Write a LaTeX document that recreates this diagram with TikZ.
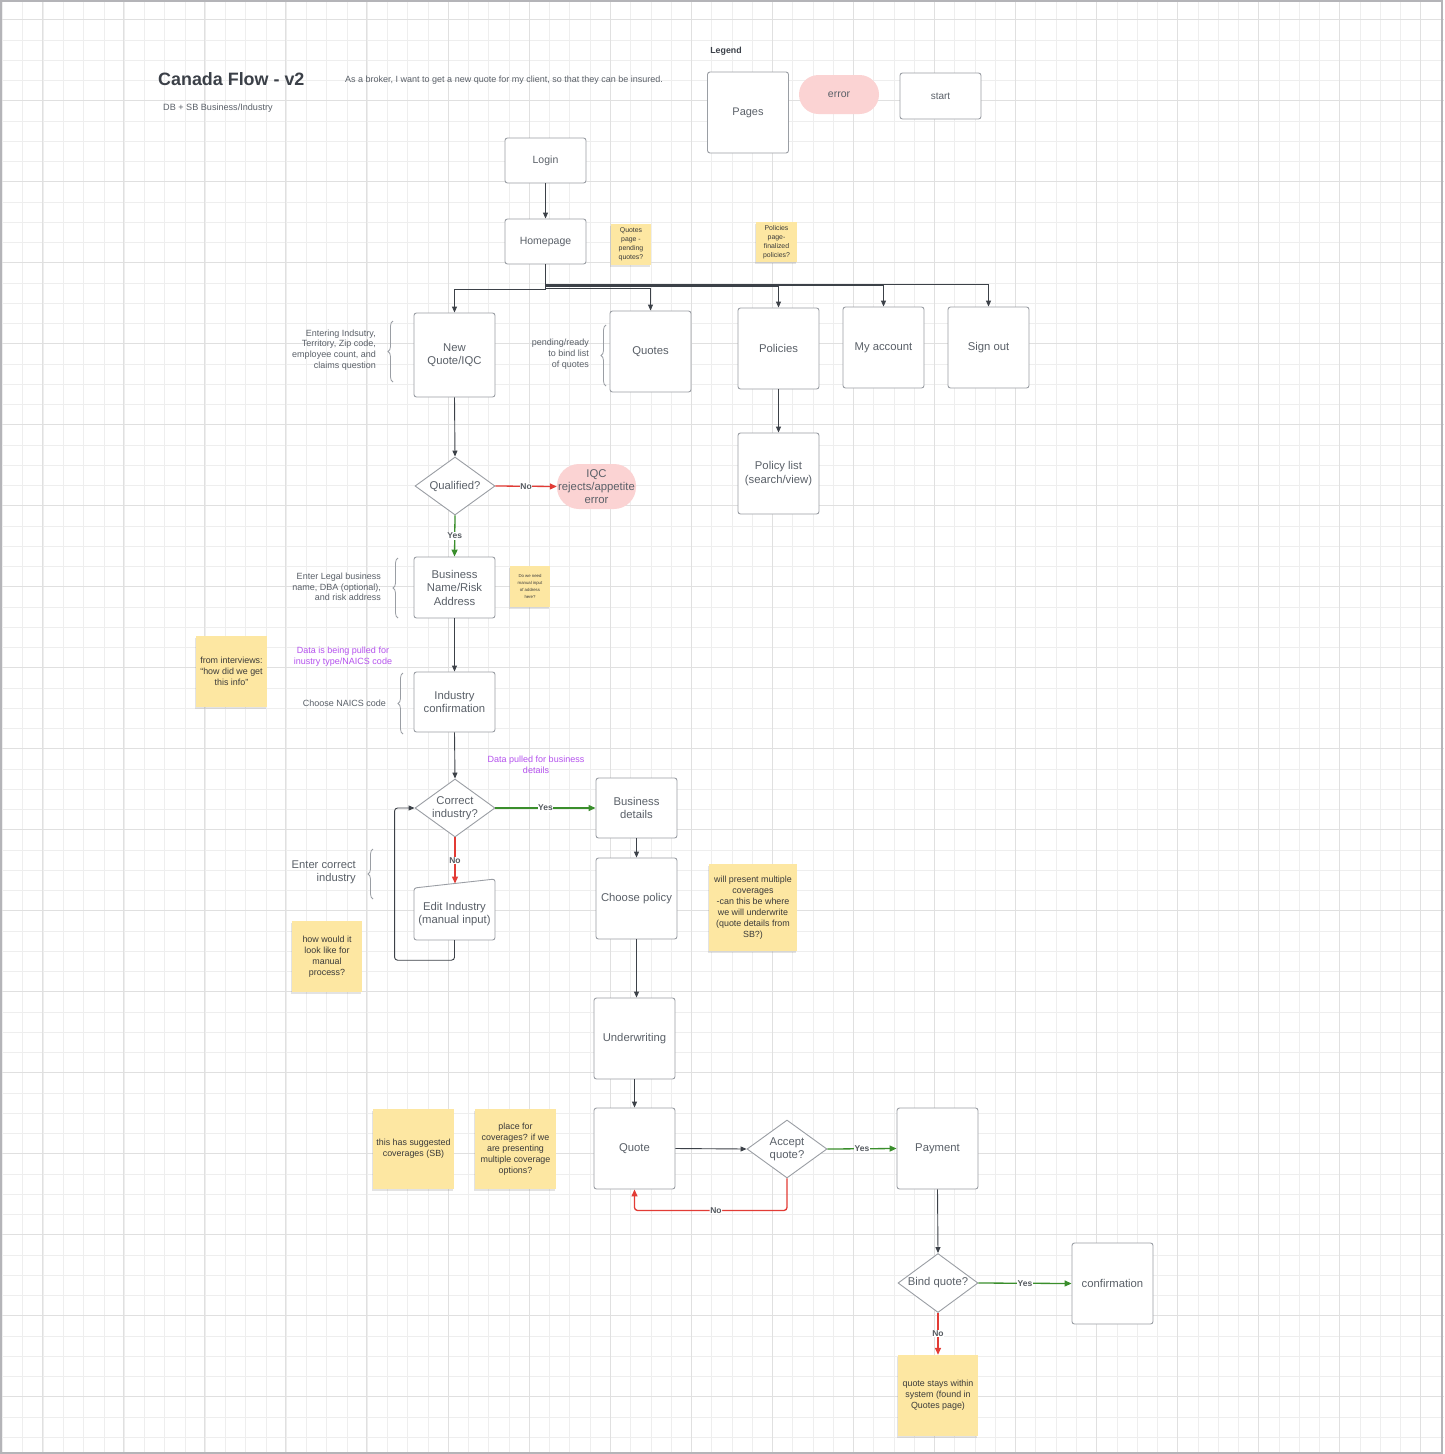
\documentclass[tikz,border=0pt]{standalone}
\usepackage{fontspec}
\setmainfont{Liberation Sans}
\usetikzlibrary{arrows.meta,shapes.geometric,decorations.pathreplacing,calc,shadows}
\definecolor{boxc}{HTML}{9A9EA4}
\definecolor{txtc}{HTML}{5A6068}
\definecolor{titlec}{HTML}{3B4048}
\definecolor{arrc}{HTML}{3C4148}
\definecolor{redc}{HTML}{E23B35}
\definecolor{greenc}{HTML}{3A8E2C}
\definecolor{errc}{HTML}{FBD3D3}
\definecolor{stickyc}{HTML}{FDE7A2}
\definecolor{notetxt}{HTML}{3A3A3A}
\definecolor{purpc}{HTML}{B552EE}
\definecolor{lblc}{HTML}{555A60}
\definecolor{minorc}{HTML}{EEEEEE}
\definecolor{majorc}{HTML}{E0E0E0}
\definecolor{framec}{HTML}{B4B4B8}
\tikzset{
  page/.style={draw=boxc, line width=0.9pt, fill=white, rounded corners=2.5pt,
    minimum width=81pt, minimum height=81pt, inner sep=1pt, align=center,
    text=txtc, font=\fontsize{11.3}{13.5}\selectfont},
  pill/.style={fill=errc, inner sep=1pt, align=center, text=txtc,
    font=\fontsize{10.5}{13}\selectfont},
  decision/.style={diamond, draw=boxc, line width=0.9pt, fill=white,
    minimum width=80pt, minimum height=58pt, inner sep=0pt, aspect=1.38,
    align=center, text=txtc, font=\fontsize{11.3}{13.3}\selectfont},
  note/.style={fill=stickyc, drop shadow={shadow xshift=-1pt, shadow yshift=-2pt, opacity=0.22},
    align=center, text=notetxt, inner sep=1pt, font=\fontsize{8.9}{11}\selectfont},
  conn/.style={draw=arrc, line width=0.9pt, -{Triangle[length=6pt,width=5pt]}},
  redconn/.style={draw=redc, line width=1.3pt, -{Triangle[length=7pt,width=6pt]}},
  greenconn/.style={draw=greenc, line width=1.3pt, -{Triangle[length=7pt,width=6pt]}},
  lbl/.style={fill=white, inner sep=0.6pt, text=lblc, font=\bfseries\fontsize{8.5}{9}\selectfont},
  annot/.style={anchor=east, align=right, inner sep=0pt, text=txtc, font=\fontsize{9}{10.7}\selectfont},
  purptext/.style={align=center, inner sep=0pt, text=purpc, font=\fontsize{9}{10.8}\selectfont},
  bracec/.style={draw=boxc, line width=0.8pt, decorate, decoration={brace, amplitude=5pt}},
  minorline/.style={draw=minorc, line width=0.6pt},
  majorline/.style={draw=majorc, line width=0.8pt}
}
\begin{document}
\begin{tikzpicture}[x=1pt,y=-1pt]
\useasboundingbox (0,0) rectangle (1444,1454);
\fill[white] (0,0) rectangle (1444,1454);
% grid
\foreach \k in {0,...,71} {\draw[minorline] ({2.5+20.26*\k},0) -- ({2.5+20.26*\k},1454);}
\foreach \k in {0,...,71} {\draw[minorline] (0,{19.6+20.25*\k}) -- (1444,{19.6+20.25*\k});}
\foreach \k in {0,...,17} {\draw[majorline] ({42.7+81.04*\k},0) -- ({42.7+81.04*\k},1454);}
\foreach \k in {0,...,17} {\draw[majorline] (0,{19.6+81*\k}) -- (1444,{19.6+81*\k});}
\draw[framec, line width=2pt] (1,1) rectangle (1441.5,1452.5);

% title
\node[anchor=west, inner sep=0pt, text=titlec, font=\bfseries\fontsize{17.9}{20}\selectfont] (title) at (158,79) {Canada Flow - v2};
\node[anchor=west, inner sep=0pt, text=txtc, font=\fontsize{9}{10}\selectfont] (story) at (345,80) {As a broker, I want to get a new quote for my client, so that they can be insured.};
\node[anchor=west, inner sep=0pt, text=txtc, font=\fontsize{9.1}{10}\selectfont] (sub) at (163,108) {DB + SB Business/Industry};

% legend
\node[inner sep=0pt, text=titlec, font=\bfseries\fontsize{8.8}{10}\selectfont] (legend) at (726,51) {Legend};
\node[page, font=\fontsize{11}{13}\selectfont] (pages) at (748,112.5) {Pages};
\node[pill, minimum width=80pt, minimum height=39pt, rounded corners=19.5pt] (err) at (839,94.5) {error};
\node[page, minimum height=46pt, font=\fontsize{10}{12}\selectfont] (start) at (940.5,96) {start};

% main pages
\node[page, minimum height=45pt, font=\fontsize{10.5}{13}\selectfont] (login) at (545.5,160.5) {Login};
\node[page, minimum height=45pt, font=\fontsize{10.5}{13}\selectfont] (home) at (545.5,241.5) {Homepage};
\node[page, minimum height=84pt] (newq) at (454.5,355) {New\\Quote/IQC};
\node[page] (quotes) at (650.5,351.5) {Quotes};
\node[page] (policies) at (778.5,348.5) {Policies};
\node[page] (myacc) at (883.5,347.5) {My account};
\node[page] (signout) at (988.5,347.5) {Sign out};
\node[page] (plist) at (778.5,473.5) {Policy list\\(search/view)};

\node[decision] (qual) at (455,486) {Qualified?};
\node[pill, minimum width=79pt, minimum height=45pt, rounded corners=22pt, font=\fontsize{11.3}{13.3}\selectfont] (iqcerr) at (596.5,486.5) {IQC\\rejects/appetite\\error};
\node[page, minimum height=61pt] (bizname) at (454.5,587.5) {Business\\Name/Risk\\Address};
\node[page, minimum height=60pt] (indconf) at (454.5,702) {Industry\\confirmation};
\node[decision] (correct) at (455,808) {Correct\\industry?};
\node[page, minimum height=60pt] (bizdet) at (636.5,808) {Business\\details};

% manual input shape
\draw[draw=boxc, line width=0.9pt, fill=white, rounded corners=2.5pt] (414,888) -- (495,879) -- (495,940) -- (414,940) -- cycle;
\node[inner sep=0pt, minimum width=81pt, minimum height=52pt, align=center, text=txtc, font=\fontsize{11.3}{13.5}\selectfont] (edit) at (454.5,914) {Edit Industry\\(manual input)};
\coordinate (edittop) at (455,883.5);

\node[page] (choose) at (636.5,898.5) {Choose policy};
\node[page] (under) at (634.5,1038.5) {Underwriting};
\node[page] (quote) at (634.5,1148.5) {Quote};
\node[decision] (accept) at (787,1149) {Accept\\quote?};
\node[page] (payment) at (937.5,1148.5) {Payment};
\node[decision, minimum height=59pt] (bind) at (938,1283) {Bind quote?};
\node[page] (confirm) at (1112.5,1283.5) {confirmation};

% sticky notes
\node[note, minimum width=40pt, minimum height=41pt, font=\fontsize{6.9}{9}\selectfont] (n1) at (631,244.5) {Quotes\\page -\\pending\\quotes?};
\node[note, minimum width=41pt, minimum height=40pt, font=\fontsize{6.9}{9}\selectfont] (n2) at (776.5,242) {Policies\\page-\\finalized\\policies?};
\node[note, minimum width=40pt, minimum height=41pt, font=\fontsize{4.3}{6.8}\selectfont] (n3) at (530,586.5) {Do we need\\manual input\\of address\\here?};
\node[note, minimum width=71pt, minimum height=71pt] (n4) at (231.5,671.5) {from interviews:\\``how did we get\\this info''};
\node[note, minimum width=70pt, minimum height=71pt] (n5) at (327,956.5) {how would it\\look like for\\manual\\process?};
\node[note, minimum width=88pt, minimum height=87pt] (n6) at (753,907.5) {will present multiple\\coverages\\-can this be where\\we will underwrite\\(quote details from\\SB?)};
\node[note, minimum width=81pt, minimum height=80pt] (n7) at (413.5,1149) {this has suggested\\coverages (SB)};
\node[note, minimum width=81pt, minimum height=80pt] (n8) at (515.5,1149) {place for\\coverages? if we\\are presenting\\multiple coverage\\options?};
\node[note, minimum width=80pt, minimum height=81pt] (n9) at (938,1395.5) {quote stays within\\system (found in\\Quotes page)};

% annotations
\node[annot] (a1) at (376,350) {Entering Indsutry,\\Territory, Zip code,\\employee count, and\\claims question};
\node[annot] (a2) at (589,354) {pending/ready\\to bind list\\of quotes};
\node[annot] (a3) at (381,587) {Enter Legal business\\name, DBA (optional),\\and risk address};
\node[annot] (a4) at (386,703) {Choose NAICS code};
\node[annot, font=\fontsize{11.2}{13}\selectfont] (a5) at (356,872.5) {Enter correct\\industry};
\node[purptext] (p1) at (343,656.5) {Data is being pulled for\\inustry type/NAICS code};
\node[purptext] (p2) at (536,764.5) {Data pulled for business\\details};

% braces
\draw[bracec] (393,382) -- (393,321);
\draw[bracec] (606,386) -- (606,325);
\draw[bracec] (398,618) -- (398,558);
\draw[bracec] (403,734) -- (403,673);
\draw[bracec] (373,899) -- (373,849);

% connectors
\draw[conn] (login) -- (home);
\draw[conn] (home.south) -- ++(0,25) -| (newq.north);
\draw[conn] (home.south) -- ++(0,24) -| (quotes.north);
\draw[conn] (home.south) -- ++(0,22) -| (policies.north);
\draw[conn] (home.south) -- ++(0,21) -| (myacc.north);
\draw[conn] (home.south) -- ++(0,20) -| (signout.north);
\draw[conn] (policies) -- (plist);
\draw[conn] (newq.south) -- (qual.north);
\draw[redconn] (qual.east) -- node[lbl]{No} (iqcerr.west);
\draw[greenconn] (qual.south) -- node[lbl]{Yes} (bizname.north);
\draw[conn] (bizname) -- (indconf);
\draw[conn] (indconf.south) -- (correct.north);
\draw[greenconn] (correct.east) -- node[lbl]{Yes} (bizdet.west);
\draw[redconn] (correct.south) -- node[lbl]{No} (edittop);
\draw[conn, rounded corners=3pt] (edit.south) -- ++(0,20) -| ($(correct.west)+(-20,0)$) -- (correct.west);
\draw[conn] (bizdet) -- (choose);
\draw[conn] (choose.south) -- (choose.south |- under.north);
\draw[conn] (under) -- (quote);
\draw[conn] (quote.east) -- (accept.west);
\draw[greenconn] (accept.east) -- node[lbl]{Yes} (payment.west);
\draw[redconn, rounded corners=3pt] (accept.south) |- node[lbl, pos=0.733]{No} ($(quote.south)+(0,21)$) -- (quote.south);
\draw[conn] (payment.south) -- (bind.north);
\draw[greenconn] (bind.east) -- node[lbl]{Yes} (confirm.west);
\draw[redconn] (bind.south) -- node[lbl]{No} (n9.north);
\end{tikzpicture}
\end{document}
